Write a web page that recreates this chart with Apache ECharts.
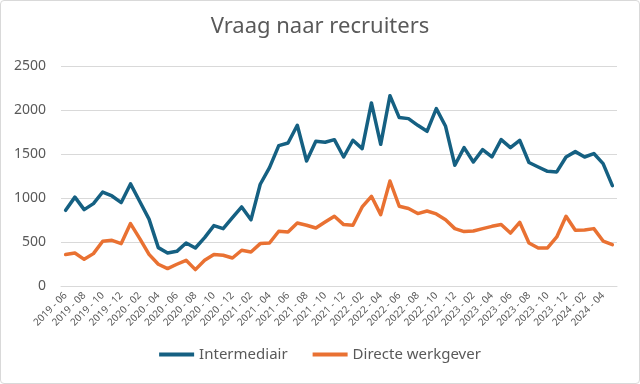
<!DOCTYPE html>
<html>
<head>
<meta charset="utf-8">
<script src="https://cdn.jsdelivr.net/npm/echarts@6/dist/echarts.min.js"></script>
<style>
html,body{margin:0;padding:0;background:#fff;}
#c{position:absolute;left:0;top:0;width:638px;height:382px;border:1px solid #d9d9d9;border-radius:4px;}
</style>
</head>
<body>
<div id="c"></div>
<script>
const months = [
"2019 - 06","2019 - 07","2019 - 08","2019 - 09","2019 - 10","2019 - 11","2019 - 12",
"2020 - 01","2020 - 02","2020 - 03","2020 - 04","2020 - 05","2020 - 06","2020 - 07","2020 - 08","2020 - 09","2020 - 10","2020 - 11","2020 - 12",
"2021 - 01","2021 - 02","2021 - 03","2021 - 04","2021 - 05","2021 - 06","2021 - 07","2021 - 08","2021 - 09","2021 - 10","2021 - 11","2021 - 12",
"2022 - 01","2022 - 02","2022 - 03","2022 - 04","2022 - 05","2022 - 06","2022 - 07","2022 - 08","2022 - 09","2022 - 10","2022 - 11","2022 - 12",
"2023 - 01","2023 - 02","2023 - 03","2023 - 04","2023 - 05","2023 - 06","2023 - 07","2023 - 08","2023 - 09","2023 - 10","2023 - 11","2023 - 12",
"2024 - 01","2024 - 02","2024 - 03","2024 - 04","2024 - 05"
];
const intermediair = [
860,1010,868,936,1068,1023,948,
1160,960,760,436,375,394,489,432,550,686,652,777,
898,752,1156,1345,1595,1625,1826,1420,1644,1633,1663,1466,
1656,1561,2080,1610,2163,1914,1902,1826,1758,2016,1815,1372,
1572,1409,1550,1466,1663,1572,1656,1403,1352,1303,1296,1466,
1527,1466,1505,1391,1141
];
const directeWerkgever = [
357,375,303,368,508,519,482,
709,539,360,247,198,247,292,186,292,357,349,318,
406,386,482,489,622,614,716,690,659,727,792,698,
690,898,1019,811,1193,906,880,823,852,819,754,652,
618,625,652,678,698,602,724,489,432,432,557,792,
633,636,652,511,470
];
const yTicks = {min:0, max:2500, interval:500};
const seriesNames = ["Intermediair","Directe werkgever"];
const colors = ["#156082","#E97132"];
const txt = "#595959";
const font = "'Noto Sans', 'Open Sans', sans-serif";

const chart = echarts.init(document.getElementById('c'), null, {renderer:'canvas'});
chart.setOption({
  animation:false,
  title:{text:"Vraag naar recruiters", left:'center', top:10,
    textStyle:{fontFamily:font, fontSize:22, fontWeight:'normal', color:txt}},
  legend:{bottom:16, left:'center', itemWidth:35, itemHeight:4, itemGap:25, icon:'rect',
    data:seriesNames,
    textStyle:{fontFamily:font, fontSize:15, color:txt}},
  grid:{left:60, right:22, top:65, bottom:97, containLabel:false},
  xAxis:{type:'category', data:months, boundaryGap:true,
    axisLine:{show:true, lineStyle:{color:'#d9d9d9', width:1}},
    axisTick:{show:false},
    axisLabel:{interval:1, rotate:45, fontFamily:font, fontSize:10, color:txt, margin:8}},
  yAxis:{type:'value', min:yTicks.min, max:yTicks.max, interval:yTicks.interval,
    axisLine:{show:false}, axisTick:{show:false},
    splitLine:{lineStyle:{color:'#d9d9d9', width:1}},
    axisLabel:{fontFamily:font, fontSize:14, color:txt, margin:15, formatter:function(v){return String(v);}}},
  series:[
    {name:seriesNames[0], type:'line', data:intermediair, symbol:'none', color:colors[0],
      lineStyle:{width:3.5, color:colors[0], cap:'round', join:'round'}},
    {name:seriesNames[1], type:'line', data:directeWerkgever, symbol:'none', color:colors[1],
      lineStyle:{width:3.5, color:colors[1], cap:'round', join:'round'}}
  ]
});
</script>
</body>
</html>
